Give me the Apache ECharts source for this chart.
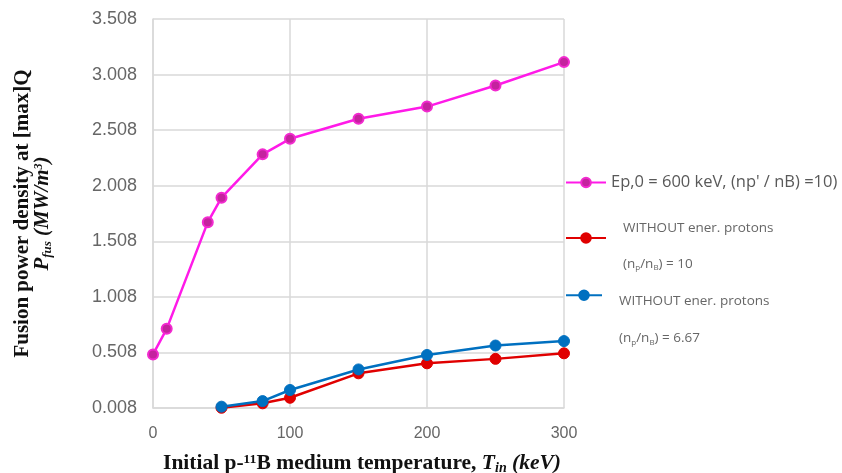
<!DOCTYPE html>
<html>
<head>
<meta charset="utf-8">
<script src="https://cdn.jsdelivr.net/npm/echarts@6/dist/echarts.min.js"></script>
<style>html,body{margin:0;padding:0;background:#fff;}#c{width:842px;height:473px;}</style>
</head>
<body>
<div id="c"></div>
<script>
// ---- data ----
const magentaT = [0, 10, 40, 50, 80, 100, 150, 200, 250, 300];
const magentaP = [0.49, 0.72, 1.68, 1.90, 2.29, 2.43, 2.61, 2.72, 2.91, 3.12];
const protonT = [50, 80, 100, 150, 200, 250, 300];
const redP = [0.01, 0.05, 0.10, 0.32, 0.41, 0.45, 0.50];
const blueP = [0.02, 0.07, 0.17, 0.355, 0.485, 0.57, 0.61];
const xTicks = [0, 100, 200, 300];
const yTicks = ['0.008', '0.508', '1.008', '1.508', '2.008', '2.508', '3.008', '3.508'];
const seriesNames = ["Ep,0 = 600 keV, (np' / nB) =10)", "WITHOUT ener. protons (np/nB) = 10", "WITHOUT ener. protons (np/nB) = 6.67"];

const pairs = (xs, ys) => xs.map((x, i) => [x, ys[i]]);
const yMin = parseFloat(yTicks[0]);
const yMax = parseFloat(yTicks[yTicks.length - 1]);
const yStep = parseFloat(yTicks[1]) - yMin;

const chart = echarts.init(document.getElementById('c'), null, {renderer: 'canvas'});
const gridColor = '#d9d9d9';
const subRich = {
  a: {fontSize: 13.5, color: '#666', fontFamily: 'Open Sans'},
  s: {fontSize: 8, color: '#666', fontFamily: 'Open Sans', padding: [8, 0, 0, 0]}
};
const serif = 'Liberation Serif';
chart.setOption({
  animation: false,
  backgroundColor: '#fff',
  grid: {left: 153, right: 278, top: 19, bottom: 65, containLabel: false, outerBoundsMode: 'none'},
  xAxis: {
    type: 'value', min: xTicks[0], max: xTicks[xTicks.length - 1], interval: 100,
    axisLine: {show: true, lineStyle: {color: gridColor, width: 1.5}},
    axisTick: {show: false},
    splitLine: {show: true, lineStyle: {color: gridColor, width: 1.5}},
    axisLabel: {color: '#666', fontSize: 16, fontFamily: 'Liberation Sans', margin: 18},
    name: 'Initial p-¹¹B medium temperature, {it|T}{sub|in} {it|(keV)}',
    nameLocation: 'middle', nameGap: 44,
    nameTextStyle: {
      fontFamily: serif, fontWeight: 'bold', fontSize: 21.5, color: '#111',
      padding: [0, 0, 0, 7],
      rich: {
        it: {fontFamily: serif, fontWeight: 'bold', fontStyle: 'italic', fontSize: 21.5, color: '#111'},
        sub: {fontFamily: serif, fontWeight: 'bold', fontStyle: 'italic', fontSize: 14, color: '#111', padding: [9, 0, 0, 0]}
      }
    }
  },
  yAxis: {
    type: 'value', min: yMin, max: yMax, interval: yStep,
    axisLine: {show: true, lineStyle: {color: gridColor, width: 1.5}},
    axisTick: {show: false},
    splitLine: {show: true, lineStyle: {color: gridColor, width: 1.5}},
    axisLabel: {color: '#666', fontSize: 18, fontFamily: 'Liberation Sans', margin: 16,
      formatter: v => v.toFixed(3)},
    name: 'Fusion power density at [max]Q\n{it|P}{sub|fus} {it|(MW/m}{sup|3}{it|)}',
    nameLocation: 'middle', nameGap: 100, nameRotate: 90,
    nameTextStyle: {
      fontFamily: serif, fontWeight: 'bold', fontSize: 21, color: '#111', lineHeight: 20,
      rich: {
        it: {fontFamily: serif, fontWeight: 'bold', fontStyle: 'italic', fontSize: 21, color: '#111', lineHeight: 20},
        sub: {fontFamily: serif, fontWeight: 'bold', fontStyle: 'italic', fontSize: 13, color: '#111', padding: [9, 0, 0, 0], lineHeight: 20},
        sup: {fontFamily: serif, fontWeight: 'bold', fontStyle: 'italic', fontSize: 12, color: '#111', padding: [0, 0, 9, 0], lineHeight: 20}
      }
    }
  },
  legend: [
    {data: [seriesNames[0]], left: 560, top: 169, itemWidth: 40, itemHeight: 12,
      textStyle: {fontSize: 16.5, color: '#595959', fontFamily: 'Open Sans'}},
    {data: [seriesNames[1]], left: 560, top: 198, itemWidth: 40, itemHeight: 12,
      formatter: () => 'WITHOUT ener. protons\n\n{a|(n}{s|p}{a|/n}{s|B}{a|) = 10}',
      textStyle: {fontSize: 13.5, color: '#666', fontFamily: 'Open Sans', lineHeight: 18,
        padding: [16, 0, 0, 12], rich: subRich}},
    {data: [seriesNames[2]], left: 560, top: 238, itemWidth: 36, itemHeight: 12,
      formatter: () => 'WITHOUT ener. protons\n\n{a|(n}{s|p}{a|/n}{s|B}{a|) = 6.67}',
      textStyle: {fontSize: 13.5, color: '#666', fontFamily: 'Open Sans', lineHeight: 18.5,
        padding: [49, 0, 0, 12], rich: subRich}}
  ],
  series: [
    {name: seriesNames[0], type: 'line', data: pairs(magentaT, magentaP),
      symbol: 'circle', symbolSize: 10,
      lineStyle: {color: '#FF1AE8', width: 2.5},
      itemStyle: {color: '#C4239E', borderColor: '#F22ACF', borderWidth: 2}},
    {name: seriesNames[1], type: 'line', data: pairs(protonT, redP),
      symbol: 'circle', symbolSize: 11,
      lineStyle: {color: '#E00000', width: 2.5},
      itemStyle: {color: '#E00000', borderColor: '#E00000', borderWidth: 1}},
    {name: seriesNames[2], type: 'line', data: pairs(protonT, blueP),
      symbol: 'circle', symbolSize: 11,
      lineStyle: {color: '#0070C0', width: 2.5},
      itemStyle: {color: '#0070C0', borderColor: '#0070C0', borderWidth: 1}}
  ]
});
</script>
</body>
</html>
